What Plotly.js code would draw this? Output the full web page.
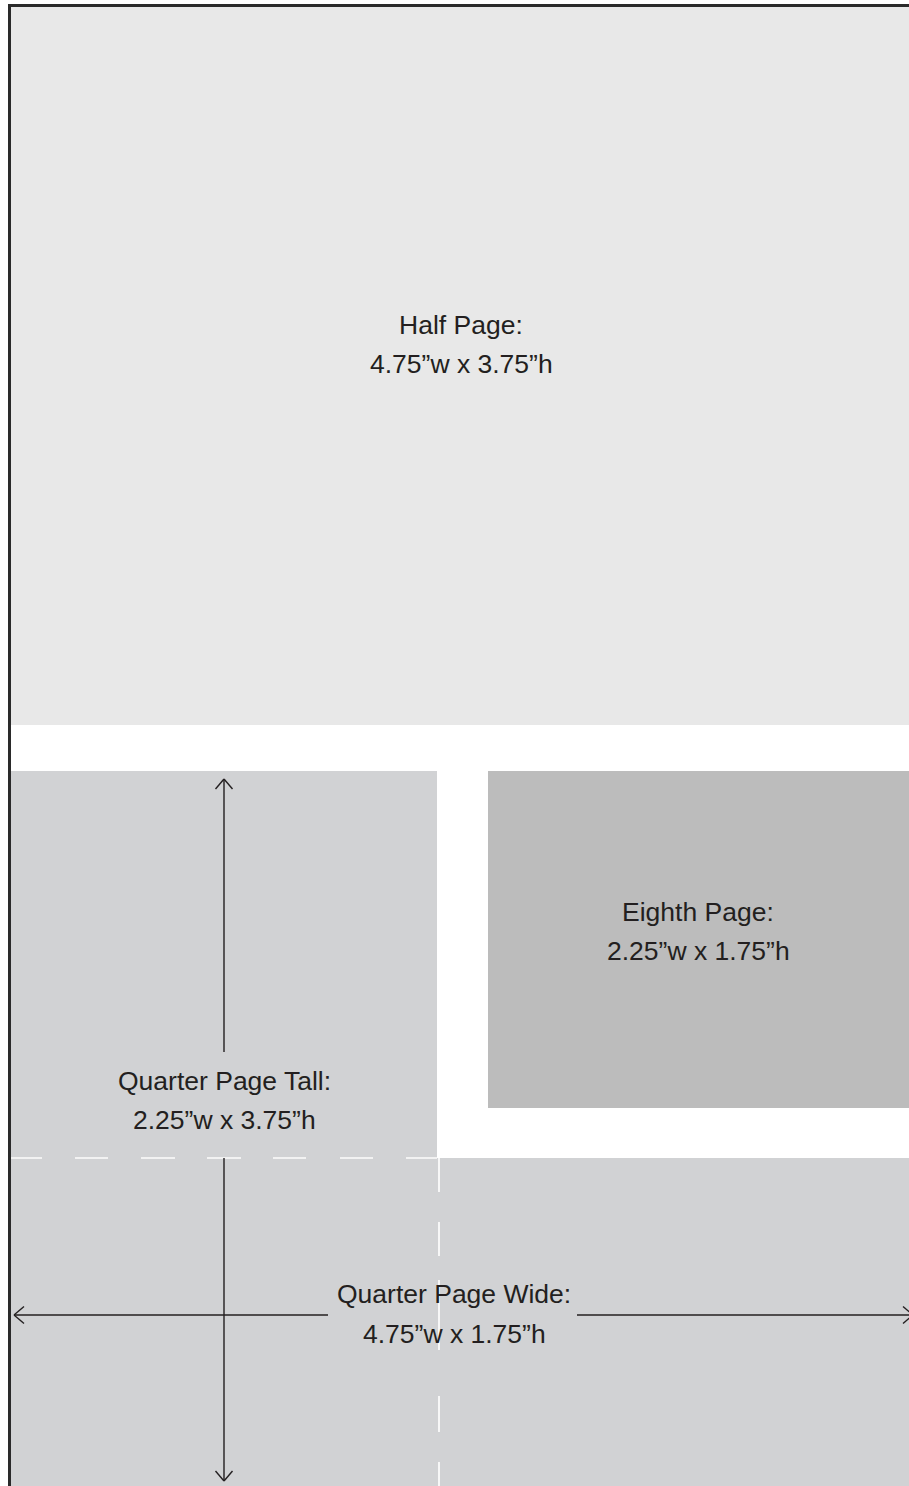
<!DOCTYPE html>
<html>
<head>
<meta charset="utf-8">
<script src="https://cdn.plot.ly/plotly-3.0.1.min.js"></script>
<style>html,body{margin:0;padding:0;background:#fff;}#chart{width:909px;height:1486px;}</style>
</head>
<body>
<div id="chart"></div>
<script>
// Ad sizes (inches)
const adNames   = ["Half Page", "Quarter Page Tall", "Eighth Page", "Quarter Page Wide"];
const adWidths  = ["4.75", "2.25", "2.25", "4.75"];
const adHeights = ["3.75", "3.75", "1.75", "1.75"];

// Box geometry on the page (page pixel coordinates)
const boxX0 = [11, 11, 488, 11];
const boxX1 = [909, 437, 909, 909];
const boxY0 = [7, 771, 771, 1158];
const boxY1 = [725, 1158, 1108, 1486];
const boxFill = ["#e8e8e8", "#d1d2d4", "#bcbcbc", "#d1d2d4"];

// Label centres
const labelX = [461, 224, 698, 454];
const labelY1 = [325, 1081, 912, 1294];
const labelY2 = [364, 1120, 951, 1334];

const ink = "#231f20";
const shapes = [];
const annotations = [];

for (let i = 0; i < adNames.length; i++) {
  shapes.push({type: "rect", xref: "x", yref: "y", x0: boxX0[i], x1: boxX1[i], y0: boxY0[i], y1: boxY1[i],
    fillcolor: boxFill[i], line: {width: 0}, layer: "below"});
}

// White dashed divider lines inside the quarter-page area
const hDashX0 = [11, 75, 141, 207, 273, 340, 406];
const hDashX1 = [42, 108, 175, 241, 306, 373, 437];
hDashX0.forEach((x0, k) => shapes.push({type: "line", xref: "x", yref: "y", x0: x0, x1: hDashX1[k], y0: 1158, y1: 1158,
  line: {color: "#f2f2f2", width: 2}}));
const vDashY0 = [1158, 1222, 1280, 1396, 1462];
const vDashY1 = [1192, 1256, 1350, 1432, 1486];
vDashY0.forEach((y0, k) => shapes.push({type: "line", xref: "x", yref: "y", x0: 439, x1: 439, y0: y0, y1: vDashY1[k],
  line: {color: "#f7f7f7", width: 2}}));

// Dimension arrows
function seg(x0, y0, x1, y1) {
  shapes.push({type: "line", xref: "x", yref: "y", x0: x0, y0: y0, x1: x1, y1: y1, line: {color: ink, width: 1.4}});
}
// vertical arrow (quarter page tall height)
seg(224, 779, 224, 1052);
seg(224, 1158, 224, 1481);
seg(224, 779, 215.5, 789); seg(224, 779, 232.5, 789);
seg(224, 1481, 215.5, 1471); seg(224, 1481, 232.5, 1471);
// horizontal arrow (quarter page wide width)
seg(14, 1315, 328, 1315);
seg(577, 1315, 913, 1315);
seg(14, 1315, 24, 1306.5); seg(14, 1315, 24, 1323.5);
seg(913, 1315, 903, 1306.5); seg(913, 1315, 903, 1323.5);

// Page border (top and left)
shapes.push({type: "line", xref: "x", yref: "y", x0: 8, x1: 909, y0: 5.5, y1: 5.5, line: {color: "#2a2a2a", width: 3}});
shapes.push({type: "line", xref: "x", yref: "y", x0: 9.5, x1: 9.5, y0: 4, y1: 1486, line: {color: "#2a2a2a", width: 3}});

const font = {family: "Liberation Sans, Arial, Helvetica, sans-serif", size: 26.5, color: ink};
for (let i = 0; i < adNames.length; i++) {
  annotations.push({xref: "x", yref: "y", x: labelX[i], y: labelY1[i], text: adNames[i] + ":",
    showarrow: false, font: font, xanchor: "center", yanchor: "middle"});
  annotations.push({xref: "x", yref: "y", x: labelX[i], y: labelY2[i],
    text: adWidths[i] + "\u201dw x " + adHeights[i] + "\u201dh",
    showarrow: false, font: font, xanchor: "center", yanchor: "middle"});
}

Plotly.newPlot("chart", [], {
  width: 909, height: 1486,
  margin: {l: 0, r: 0, t: 0, b: 0},
  paper_bgcolor: "#ffffff", plot_bgcolor: "#ffffff",
  xaxis: {range: [0, 909], visible: false, fixedrange: true},
  yaxis: {range: [1486, 0], visible: false, fixedrange: true},
  shapes: shapes, annotations: annotations, showlegend: false
}, {displayModeBar: false, staticPlot: true});
</script>
</body>
</html>
